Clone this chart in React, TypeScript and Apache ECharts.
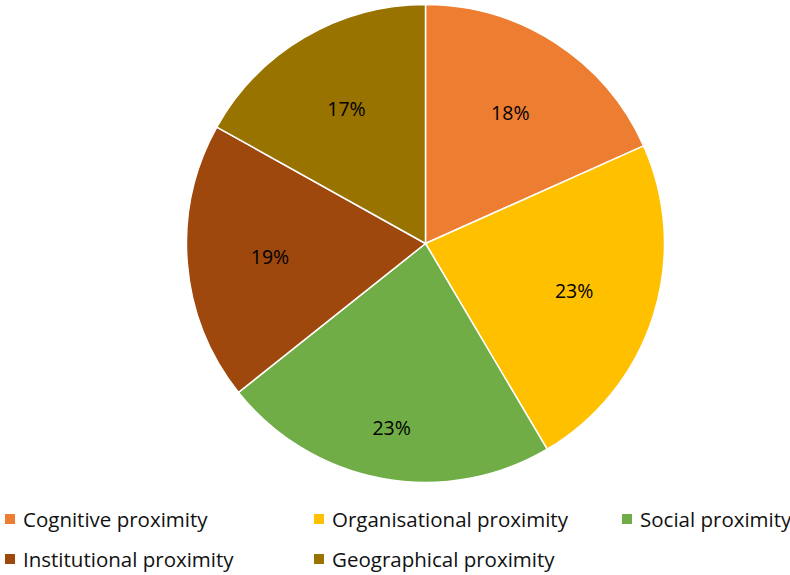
import React, { useEffect, useRef } from "react";
import * as echarts from "echarts";

const categories = [
  "Cognitive proximity",
  "Organisational proximity",
  "Social proximity",
  "Institutional proximity",
  "Geographical proximity",
];
const values = [18.3, 23.2, 22.8, 18.8, 16.9];
const colors = ["#ED7D31", "#FFC000", "#70AD47", "#9E480E", "#997300"];
const legendPos = [
  { left: 3, top: 508 },
  { left: 312, top: 508 },
  { left: 620, top: 508 },
  { left: 3, top: 548 },
  { left: 312, top: 548 },
];

const FONT = "'Open Sans', 'Noto Sans', sans-serif";

export default function App() {
  const ref = useRef<HTMLDivElement>(null);
  useEffect(() => {
    if (!ref.current) return;
    const chart = echarts.init(ref.current, undefined, { renderer: "svg" });
    const data = categories.map((name, i) => ({
      name,
      value: values[i],
      itemStyle: { color: colors[i] },
    }));
    const labelData = (showIdx: (i: number) => boolean) =>
      categories.map((name, i) => ({
        name,
        value: values[i],
        itemStyle: { color: "rgba(0,0,0,0)" },
        label: { show: showIdx(i) },
      }));
    const labelSeries = (outer: number, showIdx: (i: number) => boolean) => ({
      type: "pie",
      center: [425.5, 243.5],
      radius: [0, outer],
      startAngle: 90,
      clockwise: true,
      silent: true,
      labelLine: { show: false },
      label: {
        show: true,
        position: "inside",
        formatter: (p: any) => Math.round(p.value) + "%",
        fontFamily: FONT,
        fontSize: 19.5,
        color: "#000",
      },
      itemStyle: { borderWidth: 0 },
      data: labelData(showIdx),
    });
    chart.setOption({
      animation: false,
      legend: categories.map((name, i) => ({
        left: legendPos[i].left,
        top: legendPos[i].top,
        orient: "horizontal",
        icon: "rect",
        itemWidth: 12,
        itemHeight: 12,
        selectedMode: false,
        padding: 0,
        data: [{ name, itemStyle: { color: colors[i] } }],
        textStyle: {
          fontFamily: FONT,
          fontSize: 20.5,
          lineHeight: 22,
          color: "#111",
          padding: [0, 0, 0, 2],
        },
      })),
      series: [
        {
          type: "pie",
          center: [425.5, 243.5],
          radius: [0, 239],
          startAngle: 90,
          clockwise: true,
          silent: true,
          label: { show: false },
          labelLine: { show: false },
          itemStyle: { borderColor: "#fff", borderWidth: 1.5 },
          data,
        },
        labelSeries(306, (i) => i !== 2),
        labelSeries(368, (i) => i === 2),
      ],
    });
    return () => chart.dispose();
  }, []);
  return <div ref={ref} style={{ width: 790, height: 575, position: "absolute", left: 0, top: 0 }} />;
}
